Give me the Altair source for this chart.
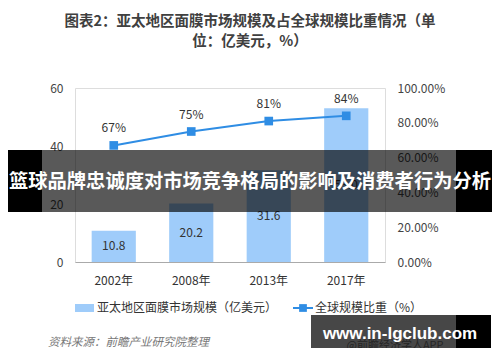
import altair as alt
import pandas as pd

years = ["2002年", "2008年", "2013年", "2017年"]
market_size = [10.8, 20.2, 31.6, 53.0]
global_share = [0.67, 0.75, 0.81, 0.84]
size_labels = ["10.8", "20.2", "31.6", "53.0"]
share_labels = ["67%", "75%", "81%", "84%"]

title_lines = ["图表2：亚太地区面膜市场规模及占全球规模比重情况（单", "位：亿美元，%）"]
legend_bar = "亚太地区面膜市场规模（亿美元）"
legend_line = "全球规模比重（%）"
source_text = "资料来源：前瞻产业研究院整理"
banner_text = "篮球品牌忠诚度对市场竞争格局的影响及消费者行为分析"
wm_text = "www.in-lgclub.com"
wm_sub = "@前瞻经济学人APP"

FONT = "Noto Sans CJK SC"
BAR = "#9fccfa"
LINE = "#2f8de4"

df = pd.DataFrame({
    "year": years, "size": market_size, "share": global_share,
    "size_label": size_labels, "share_label": share_labels,
})

W, H = 310, 174
x = alt.X("year:N", sort=years, title=None,
          scale=alt.Scale(paddingInner=0.43, paddingOuter=0.215),
          axis=alt.Axis(labelAngle=0, ticks=False, domainColor="#aaaaaa",
                        labelFontSize=12, labelColor="#333333", labelFont=FONT,
                        labelPadding=13))

base = alt.Chart(df)

yl = alt.Y("size:Q", title=None, scale=alt.Scale(domain=[0, 60]),
           axis=alt.Axis(values=[0, 10, 20, 30, 40, 50, 60], grid=False, domain=False,
                         ticks=False, labelFontSize=12, labelColor="#444444",
                         labelFont=FONT, labelPadding=12))
bars = base.mark_bar(color=BAR).encode(x=x, y=yl)
bar_text = base.transform_calculate(mid="datum.size / 2").mark_text(
    fontSize=12, color="#333333", font=FONT
).encode(x=x, y=alt.Y("mid:Q", title=None, scale=alt.Scale(domain=[0, 60])), text="size_label:N")

left = alt.layer(bars, bar_text)

yr = alt.Y("share:Q", title=None, scale=alt.Scale(domain=[0, 1]),
           axis=alt.Axis(orient="right", format=".2%", values=[0, 0.2, 0.4, 0.6, 0.8, 1.0],
                         grid=False, domain=False, ticks=False, labelFontSize=12,
                         labelColor="#444444", labelFont=FONT, labelPadding=12))
line = base.mark_line(color=LINE, strokeWidth=2).encode(x=x, y=yr)
pts = base.mark_point(shape="square", filled=True, size=75, color=LINE, opacity=1).encode(x=x, y=yr)
line_text = base.mark_text(dy=-17, fontSize=12, color="#333333", font=FONT).encode(
    x=x, y=yr, text="share_label:N")

right = alt.layer(line, pts, line_text)

main = alt.layer(left, right).resolve_scale(y="independent")

one = pd.DataFrame({"a": [0]})
ann = alt.Chart(one)

# title (plot origin at page x=75, y=88)
t1 = ann.mark_text(fontSize=14.5, fontWeight="bold", color="#404040", font=FONT).encode(
    x=alt.value(175), y=alt.value(-66), text=alt.value(title_lines[0]))
t2 = ann.mark_text(fontSize=14.5, fontWeight="bold", color="#404040", font=FONT).encode(
    x=alt.value(175), y=alt.value(-46), text=alt.value(title_lines[1]))

# legend
lg_rect = ann.mark_rect(color=BAR).encode(
    x=alt.value(0), x2=alt.value(19), y=alt.value(216), y2=alt.value(224))
lg_t1 = ann.mark_text(align="left", fontSize=12, color="#333333", font=FONT).encode(
    x=alt.value(22), y=alt.value(220), text=alt.value(legend_bar))
lg_line = ann.mark_rule(color=LINE, strokeWidth=2).encode(
    x=alt.value(218), x2=alt.value(238), y=alt.value(220))
lg_pt = ann.mark_point(shape="square", filled=True, size=60, color=LINE, opacity=1).encode(
    x=alt.value(228), y=alt.value(220))
lg_t2 = ann.mark_text(align="left", fontSize=12, color="#333333", font=FONT).encode(
    x=alt.value(240), y=alt.value(220), text=alt.value(legend_line))

src = ann.mark_text(align="left", fontSize=11.5, fontStyle="italic", color="#777777", font=FONT).encode(
    x=alt.value(-27), y=alt.value(255), text=alt.value(source_text))

# banner overlay
bn_l = ann.mark_rect(color="black").encode(
    x=alt.value(-80), x2=alt.value(-33), y=alt.value(62), y2=alt.value(124))
bn_r = ann.mark_rect(color="black").encode(
    x=alt.value(381), x2=alt.value(430), y=alt.value(62), y2=alt.value(124))
bn_m = ann.mark_rect(color="black", opacity=0.65).encode(
    x=alt.value(-33), x2=alt.value(381), y=alt.value(62), y2=alt.value(124))
bn_t = ann.mark_text(fontSize=19.3, fontWeight="bold", color="white", font=FONT).encode(
    x=alt.value(175), y=alt.value(94), text=alt.value(banner_text))

# watermark box
wm_sub_t = ann.mark_text(fontSize=11, color="#888888", font=FONT).encode(
    x=alt.value(320), y=alt.value(258), text=alt.value(wm_sub))
wm_m = ann.mark_rect(color="black", opacity=0.72).encode(
    x=alt.value(236), x2=alt.value(381), y=alt.value(227), y2=alt.value(264))
wm_r = ann.mark_rect(color="black").encode(
    x=alt.value(381), x2=alt.value(416), y=alt.value(227), y2=alt.value(264))
wm_t = ann.mark_text(fontSize=17, fontWeight="bold", color="white", font="Liberation Sans").encode(
    x=alt.value(325), y=alt.value(246), text=alt.value(wm_text))

chart = alt.layer(
    main, t1, t2, lg_rect, lg_t1, lg_line, lg_pt, lg_t2, src,
    bn_m, bn_l, bn_r, bn_t, wm_sub_t, wm_m, wm_r, wm_t
).properties(
    width=W, height=H,
    autosize=alt.AutoSizeParams(type="none"),
    padding={"left": 67, "top": 80, "right": 107, "bottom": 86},
).configure_view(stroke=None).configure(background="white")

chart.save("out.html", embed_options={"renderer": "svg", "actions": False})
